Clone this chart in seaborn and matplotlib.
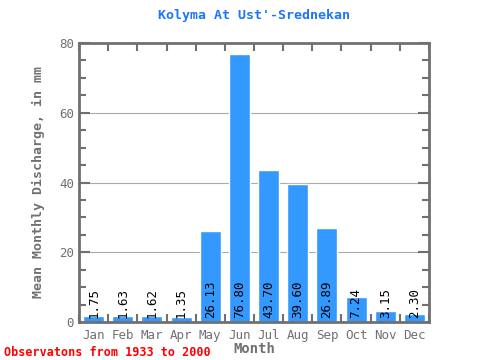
import numpy as np
import pandas as pd
import matplotlib
matplotlib.use("Agg")
import matplotlib.pyplot as plt
import seaborn as sns
from matplotlib.ticker import MultipleLocator, FixedLocator

months = ["Jan", "Feb", "Mar", "Apr", "May", "Jun", "Jul", "Aug", "Sep", "Oct", "Nov", "Dec"]
discharge = [1.75, 1.63, 1.62, 1.35, 26.13, 76.80, 43.70, 39.60, 26.89, 7.24, 3.15, 2.30]
labels = ["1.75", "1.63", "1.62", "1.35", "26.13", "76.80", "43.70", "39.60", "26.89", "7.24", "3.15", "2.30"]

df = pd.DataFrame({"Month": months, "Discharge": discharge})

sns.set_style("white")
plt.rcParams["font.family"] = ["DejaVu Sans Mono"]

fig = plt.figure(figsize=(4.8, 3.6), dpi=100)
ax = fig.add_axes([79 / 480, 38 / 360, 350 / 480, 279 / 360])

sns.barplot(data=df, x="Month", y="Discharge", color="#3399ff", width=0.72,
            saturation=1, ax=ax, zorder=2)

for i, (v, t) in enumerate(zip(discharge, labels)):
    ax.text(i, 1.2, t, rotation=90, ha="center", va="bottom", fontsize=9,
            color="black", zorder=3)

ax.set_xlim(-0.5, 11.5)
ax.set_ylim(0, 80)
ax.yaxis.set_major_locator(MultipleLocator(20))
ax.yaxis.set_minor_locator(MultipleLocator(5))
ax.xaxis.set_minor_locator(FixedLocator(np.arange(-0.5, 12, 1)))
ax.grid(axis="y", which="major", color="#aaaaaa", linewidth=0.8, zorder=0)

grey = "#707070"
for s in ax.spines.values():
    s.set_color(grey)
    s.set_linewidth(2)
ax.tick_params(axis="y", which="both", direction="in", left=True, right=True,
               color=grey, width=1.5, labelcolor=grey, labelsize=9)
ax.tick_params(axis="y", which="major", length=8)
ax.tick_params(axis="y", which="minor", length=5)
ax.tick_params(axis="x", which="major", length=0, labelcolor=grey, labelsize=9, pad=5)
ax.tick_params(axis="x", which="minor", direction="in", top=True, bottom=True,
               color=grey, width=1.5, length=6)

ax.set_xlabel("Month", color=grey, fontsize=10, fontweight="bold", labelpad=0)
ax.set_ylabel("Mean Monthly Discharge, in mm", color=grey, fontsize=9.5,
              fontweight="bold", labelpad=10)
ax.set_title("Kolyma At Ust'-Srednekan", color="#1a75ff", fontsize=9.5,
             fontweight="bold", pad=17)
fig.text(4 / 480, 1 - 352 / 360, "Observatons from 1933 to 2000", color="red",
         fontsize=8.5, fontweight="bold", va="center", ha="left")

fig.savefig("out.png", dpi=100)
